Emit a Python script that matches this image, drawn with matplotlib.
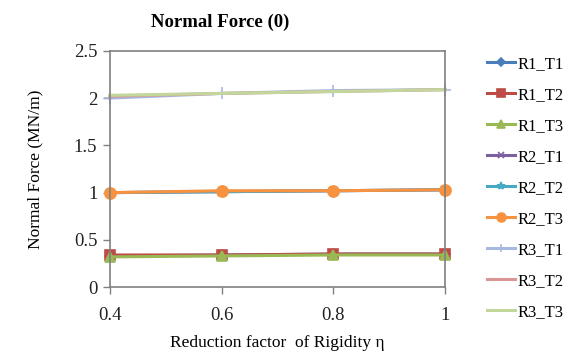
import numpy as np
import matplotlib
matplotlib.use('Agg')
import matplotlib.pyplot as plt

plt.rcParams['font.family'] = ['Liberation Serif', 'DejaVu Serif']

eta = [0.4, 0.6, 0.8, 1.0]
series_names = ['R1_T1', 'R1_T2', 'R1_T3', 'R2_T1', 'R2_T2', 'R2_T3',
                'R3_T1', 'R3_T2', 'R3_T3']
r1_t1 = [0.33, 0.34, 0.35, 0.35]
r1_t2 = [0.34, 0.34, 0.35, 0.35]
r1_t3 = [0.32, 0.33, 0.34, 0.34]
r2_t1 = [1.00, 1.01, 1.02, 1.03]
r2_t2 = [1.00, 1.01, 1.02, 1.03]
r2_t3 = [1.00, 1.02, 1.02, 1.03]
r3_t1 = [2.00, 2.05, 2.08, 2.09]
r3_t2 = [2.02, 2.05, 2.07, 2.09]
r3_t3 = [2.03, 2.05, 2.07, 2.09]
values = [r1_t1, r1_t2, r1_t3, r2_t1, r2_t2, r2_t3, r3_t1, r3_t2, r3_t3]

colors = ['#4A7EBB', '#BE4B48', '#98B954', '#7D60A0', '#46AAC5', '#F69240',
          '#A7B9E3', '#D99694', '#C3D69B']
markers = ['D', 's', '^', 'x', '*', 'o', '+', None, None]
msizes = [5, 7, 7, 6, 7, 8, 8, 0, 0]

fig = plt.figure(figsize=(5.72, 3.51), dpi=100)
ax = fig.add_axes([0.192, 0.182, 0.586, 0.673])

for name, vals, c, m, ms in zip(series_names, values, colors, markers, msizes):
    ax.plot(eta, vals, color=c, lw=2.2, marker=m, ms=ms, mec=c, mfc=c,
            mew=1.2, label=name, clip_on=False)

ax.set_xlim(0.4, 1.0)
ax.set_ylim(0, 2.5)
ax.set_xticks(eta)
ax.set_xticklabels(['0.4', '0.6', '0.8', '1'])
ax.set_yticks([0, 0.5, 1, 1.5, 2, 2.5])
ax.set_yticklabels(['0', '0.5', '1', '1.5', '2', '2.5'])
ax.tick_params(labelsize=13.5, colors='#808080', labelcolor='#222222', length=5, width=1)
ax.tick_params(axis='x', pad=9)
ax.tick_params(axis='y', pad=4)
for s in ax.spines.values():
    s.set_color('#808080')
    s.set_linewidth(1.2)

ax.set_ylabel('Normal Force (MN/m)', fontsize=12.5, labelpad=22)
ax.set_xlabel('Reduction factor  of Rigidity \u03b7', fontsize=12.5, labelpad=8)
fig.text(0.385, 0.935, 'Normal Force (0)', fontsize=13.5, fontweight='bold',
         ha='center', va='center')

leg = fig.legend(loc='upper left', bbox_to_anchor=(0.84, 0.86), frameon=False,
                 fontsize=12, handlelength=1.7, labelspacing=0.9,
                 handletextpad=0.1, borderaxespad=0, markerscale=0.8)

fig.savefig('out.png', dpi=100)
